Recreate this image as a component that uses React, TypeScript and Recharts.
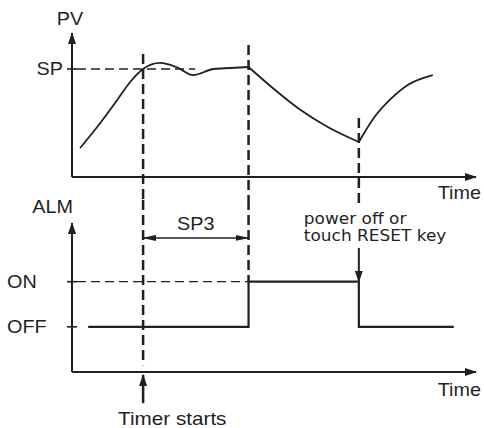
import React from "react";
import { ComposedChart, Line, ReferenceLine, XAxis, YAxis } from "recharts";

const INK = "#231f20";
const SANS = "'Liberation Sans', Arial, sans-serif";
const THIN_SANS = "'DejaVu Sans', Verdana, sans-serif";
const W = 484;
const H = 428;

// both panels share the same time scale (arbitrary units 0..100)
const timeDomain: [number, number] = [0, 100];
const pvDomain: [number, number] = [0, 100];
const almDomain: [number, number] = [0, 3.3];

const SP = 75;
const OFF = 1;
const ON = 2;
const levelNames: Record<number, string> = { [SP]: "SP", [ON]: "ON", [OFF]: "OFF" };

// events
const timerStart = 17.6;
const alarmOn = 43.7;
const resetAt = 71.0;

// PV curve, split where it has corners
const pvRise = [
  { t: 2.0, pv: 20.1 },
  { t: 7.0, pv: 37.5 },
  { t: 11.2, pv: 53.5 },
  { t: 14.4, pv: 66.0 },
  { t: 17.6, pv: 75.0 },
  { t: 21.8, pv: 79.2 },
  { t: 25.8, pv: 76.4 },
  { t: 30.0, pv: 70.8 },
  { t: 35.0, pv: 75.0 },
  { t: 39.2, pv: 75.7 },
  { t: 43.7, pv: 76.4 },
];
const pvFall = [
  { t: 43.7, pv: 76.4 },
  { t: 49.9, pv: 61.3 },
  { t: 56.6, pv: 46.5 },
  { t: 63.3, pv: 34.7 },
  { t: 71.0, pv: 24.3 },
];
const pvRecover = [
  { t: 71.0, pv: 24.3 },
  { t: 74.7, pv: 41.0 },
  { t: 78.9, pv: 54.2 },
  { t: 83.1, pv: 63.9 },
  { t: 89.3, pv: 70.8 },
];

// alarm output
const almSteps = [
  { t: 4.0, alm: OFF },
  { t: alarmOn, alm: ON },
  { t: resetAt, alm: OFF },
  { t: 94.5, alm: OFF },
];

// vertical dashed guides, top part in PV units, bottom part in ALM units
const guides = [
  { t: timerStart, pvFrom: 85.4, pvTo: -16, almFrom: 3.81, almTo: 0.15 },
  { t: alarmOn, pvFrom: 91.7, pvTo: -16, almFrom: 3.81, almTo: ON },
  { t: resetAt, pvFrom: 41.0, pvTo: -18, almFrom: null, almTo: null },
];
const spDashEnd = 30.5;
const sp3Level = 2.97;
const resetArrowFrom = 2.75;
const timerArrow: [number, number] = [-0.69, -0.066];

function Txt({ x, y, anchor = "start", size = 18, family = SANS, stretch = 1.1, children }: any) {
  return (
    <text
      transform={`translate(${x},${y}) scale(${stretch},1)`}
      textAnchor={anchor}
      fontSize={size}
      fontFamily={family}
      fill={INK}
    >
      {children}
    </text>
  );
}

function LevelTick(props: any) {
  const { x, y, payload, align } = props;
  const name = levelNames[payload.value];
  return (
    <g>
      <line x1={x} y1={y} x2={x + 10} y2={y} stroke={INK} strokeWidth={1.6} />
      {align === "end" ? (
        <Txt x={x - 4} y={y + 6} anchor="end">{name}</Txt>
      ) : (
        <Txt x={x - 60} y={y + 6}>{name}</Txt>
      )}
    </g>
  );
}

const dashShape = (width: number, dash: string) => (p: any) => (
  <line x1={p.x1} y1={p.y1} x2={p.x2} y2={p.y2} stroke={INK} strokeWidth={width} strokeDasharray={dash} />
);

const arrowShape =
  (start: boolean, end: boolean, head: string, width: number, extra?: (p: any) => React.ReactNode) =>
  (p: any) => (
    <g>
      <line
        x1={p.x1}
        y1={p.y1}
        x2={p.x2}
        y2={p.y2}
        stroke={INK}
        strokeWidth={width}
        markerStart={start ? `url(#${head})` : undefined}
        markerEnd={end ? `url(#${head})` : undefined}
      />
      {extra && extra(p)}
    </g>
  );

const axisLine = (which: "start" | "end") => ({
  stroke: INK,
  strokeWidth: 2,
  ...(which === "start" ? { markerStart: "url(#axisHead)" } : { markerEnd: "url(#axisHead)" }),
});

const guideShape = dashShape(2.5, "10 5");
const levelShape = dashShape(1.3, "0 5 9 0");

function Markers() {
  return (
    <svg width={0} height={0} style={{ position: "absolute" }}>
      <defs>
        <marker id="axisHead" viewBox="0 0 12 8" markerWidth={12} markerHeight={8} refX={11} refY={4}
          orient="auto-start-reverse" markerUnits="userSpaceOnUse">
          <path d="M0,0 L12,4 L0,8 z" fill={INK} />
        </marker>
        <marker id="eventHead" viewBox="0 0 12 8" markerWidth={12} markerHeight={8} refX={11} refY={4}
          orient="auto-start-reverse" markerUnits="userSpaceOnUse">
          <path d="M0,0 L12,4 L0,8 z" fill={INK} />
        </marker>
        <marker id="spanHead" viewBox="0 0 14 6" markerWidth={14} markerHeight={6} refX={13} refY={3}
          orient="auto-start-reverse" markerUnits="userSpaceOnUse">
          <path d="M0,0 L14,3 L0,6 z" fill={INK} />
        </marker>
      </defs>
    </svg>
  );
}

export default function App() {
  return (
    <div style={{ position: "absolute", left: 0, top: 0, width: W, height: H, background: "#fff" }}>
      <Markers />
      {/* PV panel */}
      <div style={{ position: "absolute", left: 0, top: 0 }}>
        <ComposedChart width={W} height={H} margin={{ top: 33, right: 8, bottom: H - 178, left: 71 }}>
          <XAxis
            type="number"
            dataKey="t"
            domain={timeDomain}
            height={1}
            tick={false}
            tickLine={false}
            axisLine={axisLine("end")}
            label={{
              content: (p: any) => (
                <Txt x={p.viewBox.x + p.viewBox.width + 5} y={p.viewBox.y + 22} anchor="end">Time</Txt>
              ),
            }}
          />
          <YAxis
            type="number"
            domain={pvDomain}
            width={1}
            ticks={[SP]}
            tickLine={false}
            tickSize={0}
            tickMargin={5}
            tick={(p: any) => <LevelTick {...p} align="end" />}
            axisLine={axisLine("start")}
            label={{
              content: (p: any) => (
                <Txt x={p.viewBox.x - 1} y={p.viewBox.y - 8} anchor="middle">PV</Txt>
              ),
            }}
          />
          <ReferenceLine
            segment={[{ x: 0, y: SP }, { x: spDashEnd, y: SP }]}
            ifOverflow="visible"
            shape={levelShape}
          />
          {guides.map((g) => (
            <ReferenceLine
              key={`pv-${g.t}`}
              segment={[{ x: g.t, y: g.pvFrom }, { x: g.t, y: g.pvTo }]}
              ifOverflow="visible"
              shape={guideShape}
            />
          ))}
          {[pvRise, pvFall, pvRecover].map((seg, i) => (
            <Line
              key={i}
              data={seg}
              dataKey="pv"
              type="monotone"
              stroke={INK}
              strokeWidth={1.8}
              dot={false}
              activeDot={false}
              isAnimationActive={false}
            />
          ))}
        </ComposedChart>
      </div>
      {/* ALM panel */}
      <div style={{ position: "absolute", left: 0, top: 0 }}>
        <ComposedChart width={W} height={H} margin={{ top: 223, right: 8, bottom: H - 373, left: 71 }}>
          <XAxis
            type="number"
            dataKey="t"
            domain={timeDomain}
            height={1}
            tick={false}
            tickLine={false}
            axisLine={axisLine("end")}
            label={{
              content: (p: any) => (
                <Txt x={p.viewBox.x + p.viewBox.width + 5} y={p.viewBox.y + 24} anchor="end">Time</Txt>
              ),
            }}
          />
          <YAxis
            type="number"
            domain={almDomain}
            width={1}
            ticks={[OFF, ON]}
            tickLine={false}
            tickSize={0}
            tickMargin={5}
            tick={(p: any) => <LevelTick {...p} align="start" />}
            axisLine={axisLine("start")}
            label={{
              content: (p: any) => (
                <Txt x={p.viewBox.x + 2} y={p.viewBox.y - 10} anchor="end">ALM</Txt>
              ),
            }}
          />
          <ReferenceLine
            segment={[{ x: 0, y: ON }, { x: alarmOn, y: ON }]}
            ifOverflow="visible"
            shape={levelShape}
          />
          {guides
            .filter((g) => g.almFrom !== null)
            .map((g) => (
              <ReferenceLine
                key={`alm-${g.t}`}
                segment={[{ x: g.t, y: g.almFrom as number }, { x: g.t, y: g.almTo as number }]}
                ifOverflow="visible"
                shape={guideShape}
              />
            ))}
          <ReferenceLine
            segment={[{ x: timerStart, y: sp3Level }, { x: alarmOn, y: sp3Level }]}
            ifOverflow="visible"
            shape={arrowShape(true, true, "spanHead", 1.5, (p) => (
              <Txt x={(p.x1 + p.x2) / 2} y={p.y1 - 8} anchor="middle">SP3</Txt>
            ))}
          />
          <ReferenceLine
            segment={[{ x: resetAt, y: resetArrowFrom }, { x: resetAt, y: ON }]}
            ifOverflow="visible"
            shape={arrowShape(false, true, "eventHead", 2, (p) => (
              <g>
                <Txt x={p.x1 - 55} y={p.y1 - 24} size={15} family={THIN_SANS} stretch={1.13}>power off or</Txt>
                <Txt x={p.x1 - 55} y={p.y1 - 7} size={15} family={THIN_SANS} stretch={1.13}>touch RESET key</Txt>
              </g>
            ))}
          />
          <ReferenceLine
            segment={[{ x: timerStart, y: timerArrow[0] }, { x: timerStart, y: timerArrow[1] }]}
            ifOverflow="visible"
            shape={arrowShape(false, true, "eventHead", 2.5, (p) => (
              <Txt x={p.x1 - 25} y={p.y1 + 22} stretch={1.15}>Timer starts</Txt>
            ))}
          />
          <Line
            data={almSteps}
            dataKey="alm"
            type="stepAfter"
            stroke={INK}
            strokeWidth={2.2}
            dot={false}
            activeDot={false}
            isAnimationActive={false}
          />
        </ComposedChart>
      </div>
    </div>
  );
}
